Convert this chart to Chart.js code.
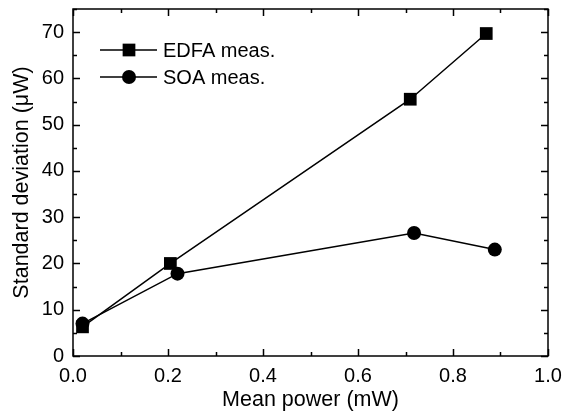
<!DOCTYPE html>
<html>
<head>
<meta charset="utf-8">
<script src="https://cdn.jsdelivr.net/npm/chart.js@4.4.1/dist/chart.umd.min.js"></script>
<style>
  html, body { margin: 0; padding: 0; background: #fff; }
  #wrap { width: 564px; height: 415px; }
</style>
</head>
<body>
<div id="wrap"><canvas id="graph01"></canvas></div>
<script>
// values
const edfaPower = [0.02, 0.205, 0.71, 0.87];
const edfaStd = [6.3, 20.0, 55.5, 69.7];
const soaPower = [0.02, 0.22, 0.718, 0.888];
const soaStd = [7.0, 17.8, 26.6, 23.0];

const seriesNames = ['EDFA meas.', 'SOA meas.'];
const xTicks = [0, 0.2, 0.4, 0.6, 0.8, 1.0];
const yTicks = [0, 10, 20, 30, 40, 50, 60, 70];

const FONT = '"Liberation Sans", Arial, Helvetica, sans-serif';

const toXY = (xs, ys) => xs.map((x, i) => ({ x: x, y: ys[i] }));

// inward ticks on all four sides + frame
const frameTicks = {
    id: 'frameTicks',
    afterDatasetsDraw(chart) {
        const ctx = chart.ctx;
        const a = chart.chartArea;
        const xs = chart.scales.x;
        const ys = chart.scales.y;
        ctx.save();
        ctx.strokeStyle = '#000';
        ctx.lineWidth = 1.5;
        ctx.strokeRect(a.left, a.top, a.right - a.left, a.bottom - a.top);

        ctx.beginPath();
        for (let v = 0; v <= 1.0001; v += 0.1) {
            const px = Math.round(xs.getPixelForValue(v)) + 0.5;
            const major = Math.abs(v / 0.2 - Math.round(v / 0.2)) < 0.01;
            const len = major ? 7 : 4;
            ctx.moveTo(px, a.bottom); ctx.lineTo(px, a.bottom - len);
            ctx.moveTo(px, a.top); ctx.lineTo(px, a.top + len);
        }
        for (let v = 0; v <= 75; v += 5) {
            const py = Math.round(ys.getPixelForValue(v)) + 0.5;
            const len = (v % 10 === 0) ? 7 : 4;
            ctx.moveTo(a.left, py); ctx.lineTo(a.left + len, py);
            ctx.moveTo(a.right, py); ctx.lineTo(a.right - len, py);
        }
        ctx.stroke();
        ctx.restore();
    }
};

// legend inside the plot: line with marker in the middle
const innerLegend = {
    id: 'innerLegend',
    afterDraw(chart) {
        const ctx = chart.ctx;
        const rows = [50, 77];
        ctx.save();
        chart.data.datasets.forEach((ds, i) => {
            const y = rows[i];
            ctx.strokeStyle = ds.borderColor;
            ctx.lineWidth = ds.borderWidth;
            ctx.beginPath();
            ctx.moveTo(100, y);
            ctx.lineTo(157, y);
            ctx.stroke();
            ctx.fillStyle = ds.pointBackgroundColor;
            Chart.helpers.drawPoint(ctx, {
                pointStyle: ds.pointStyle,
                radius: ds.pointRadius,
                borderWidth: 0
            }, 129, y);
            ctx.fillStyle = '#000';
            ctx.font = '20px ' + FONT;
            ctx.textBaseline = 'middle';
            ctx.textAlign = 'left';
            ctx.fillText(ds.label, 163, y + 1);
        });
        ctx.restore();
    }
};

new Chart(document.getElementById('graph01'), {
    type: 'scatter',
    data: {
        datasets: [
            {
                label: seriesNames[0],
                data: toXY(edfaPower, edfaStd),
                showLine: true,
                borderColor: '#000',
                borderWidth: 1.5,
                pointStyle: 'rect',
                pointRadius: 9,
                pointBackgroundColor: '#000',
                pointBorderWidth: 0
            },
            {
                label: seriesNames[1],
                data: toXY(soaPower, soaStd),
                showLine: true,
                borderColor: '#000',
                borderWidth: 1.5,
                pointStyle: 'circle',
                pointRadius: 7,
                pointBackgroundColor: '#000',
                pointBorderWidth: 0
            }
        ]
    },
    options: {
        responsive: true,
        maintainAspectRatio: false,
        animation: false,
        layout: { padding: { top: 4, right: 16, left: 0, bottom: 0 } },
        plugins: {
            legend: { display: false },
            tooltip: { enabled: false }
        },
        scales: {
            x: {
                type: 'linear',
                min: 0,
                max: 1.0,
                grid: { display: false, drawTicks: false },
                border: { display: false },
                afterBuildTicks: s => { s.ticks = xTicks.map(v => ({ value: v })); },
                afterFit: s => { s.height = 59; s.paddingLeft = 0; s.paddingRight = 0; },
                ticks: {
                    padding: 8,
                    color: '#000',
                    font: { family: FONT, size: 20 },
                    callback: v => v.toFixed(1)
                },
                title: {
                    display: true,
                    text: 'Mean power (mW)',
                    color: '#000',
                    font: { family: FONT, size: 21.5 },
                    padding: { top: 0, bottom: 2 }
                }
            },
            y: {
                type: 'linear',
                min: 0,
                max: 75,
                grid: { display: false, drawTicks: false },
                border: { display: false },
                afterBuildTicks: s => { s.ticks = yTicks.map(v => ({ value: v })); },
                afterFit: s => { s.width = 73; s.paddingTop = 0; s.paddingBottom = 0; },
                ticks: {
                    padding: 9,
                    color: '#000',
                    font: { family: FONT, size: 20 }
                },
                title: {
                    display: true,
                    text: 'Standard deviation (\u03bcW)',
                    color: '#000',
                    font: { family: FONT, size: 21.5 },
                    padding: { top: 9, bottom: 0 }
                }
            }
        }
    },
    plugins: [frameTicks, innerLegend]
});
</script>
</body>
</html>
